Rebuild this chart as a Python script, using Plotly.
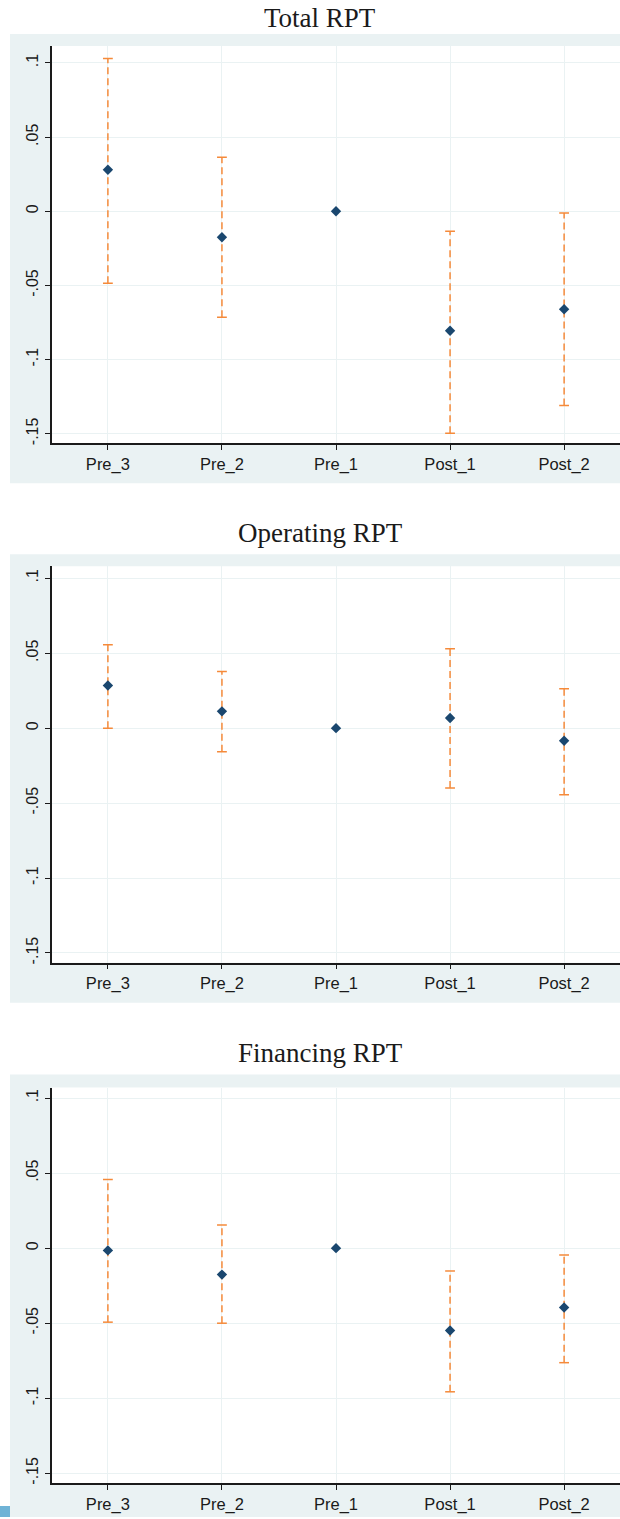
import plotly.graph_objects as go

categories = ["Pre_3", "Pre_2", "Pre_1", "Post_1", "Post_2"]

titles = ["Total RPT", "Operating RPT", "Financing RPT"]

total_coef = [0.028, -0.0175, 0.0, -0.0805, -0.066]
total_lo = [-0.0485, -0.0714, None, -0.1496, -0.131]
total_hi = [0.1031, 0.0364, None, -0.0135, -0.0011]

oper_coef = [0.0284, 0.0112, 0.0, 0.0068, -0.0084]
oper_lo = [0.0, -0.0157, None, -0.040, -0.0445]
oper_hi = [0.0557, 0.0378, None, 0.053, 0.0262]

fin_coef = [-0.0015, -0.0176, 0.0, -0.0549, -0.0395]
fin_lo = [-0.0493, -0.050, None, -0.0957, -0.0763]
fin_hi = [0.0457, 0.0154, None, -0.0152, -0.0045]

y_tickvals = [-0.15, -0.1, -0.05, 0, 0.05, 0.1]
y_ticktext = ["-.15", "-.1", "-.05", "0", ".05", ".1"]

panels = [
    (total_coef, total_lo, total_hi),
    (oper_coef, oper_lo, oper_hi),
    (fin_coef, fin_lo, fin_hi),
]

W, H = 620, 1519
# pixel layout per panel: (gray_top, gray_bottom, plot_top, plot_bottom, title_y, y_top)
geom = [
    (34, 484, 46, 444, 18, 0.1115),
    (555, 1004, 567, 964, 534, 0.108),
    (1076, 1519, 1089, 1485, 1054, 0.107),
]
y_bottom = -0.1565
axis_left = 52

NAVY = "#1A476F"
ORANGE = "#F58A3A"
GRID = "#EAF2F3"
BAND = "#EAF2F3"

def py(px):
    return 1 - px / H

fig = go.Figure()
shapes = []
annotations = []

for i, ((coef, lo, hi), g) in enumerate(zip(panels, geom)):
    gt, gb, pt, pb, ty, ytop = g
    sfx = "" if i == 0 else str(i + 1)
    xa = "x" + sfx
    ya = "y" + sfx

    xs, ys = [], []
    capx, capy = [], []
    for c, l, h in zip(categories, lo, hi):
        if l is None or h is None:
            continue
        xs += [c, c, None]
        ys += [l, h, None]
        capx += [c, c]
        capy += [l, h]
    fig.add_trace(go.Scatter(x=xs, y=ys, mode="lines",
                             line=dict(color=ORANGE, width=1.5, dash="7px,4px"),
                             xaxis=xa, yaxis=ya, showlegend=False, hoverinfo="skip"))
    fig.add_trace(go.Scatter(x=capx, y=capy, mode="markers",
                             marker=dict(symbol="line-ew", size=7, color=ORANGE,
                                         line=dict(color=ORANGE, width=1.5)),
                             xaxis=xa, yaxis=ya, showlegend=False, hoverinfo="skip"))
    fig.add_trace(go.Scatter(x=categories, y=coef, mode="markers",
                             marker=dict(symbol="diamond", size=8, color=NAVY),
                             xaxis=xa, yaxis=ya, showlegend=False))

    fig.layout["xaxis" + sfx] = dict(
        domain=[axis_left / W, 1], anchor=ya,
        type="category", categoryorder="array", categoryarray=categories,
        range=[-0.49, 4.49],
        showgrid=True, gridcolor=GRID, gridwidth=1,
        showline=True, linecolor="#1a1a1a", linewidth=1.5,
        ticks="outside", ticklen=5, tickcolor="#1a1a1a", tickwidth=1.2,
        tickfont=dict(family="Liberation Sans, Arial", size=16.5, color="#1a1a1a"),
        zeroline=False, fixedrange=True,
    )
    fig.layout["yaxis" + sfx] = dict(
        domain=[py(pb), py(pt)], anchor=xa,
        range=[y_bottom, ytop],
        tickvals=y_tickvals, ticktext=y_ticktext, tickangle=-90,
        showgrid=True, gridcolor=GRID, gridwidth=1,
        showline=True, linecolor="#1a1a1a", linewidth=1.5,
        ticks="outside", ticklen=5, tickcolor="#1a1a1a", tickwidth=1.2,
        tickfont=dict(family="Liberation Sans, Arial", size=16, color="#1a1a1a"),
        ticklabelstandoff=1,
        zeroline=False, fixedrange=True,
    )

    shapes.append(dict(type="rect", xref="paper", yref="paper",
                       x0=10 / W, x1=1, y0=py(gb), y1=py(gt),
                       fillcolor=BAND, line=dict(width=0), layer="below"))
    shapes.append(dict(type="rect", xref="paper", yref="paper",
                       x0=axis_left / W, x1=1, y0=py(pb), y1=py(pt),
                       fillcolor="white", line=dict(width=0), layer="below"))
    annotations.append(dict(text=titles[i], xref="paper", yref="paper",
                            x=320 / W, y=py(ty), xanchor="center", yanchor="middle",
                            showarrow=False,
                            font=dict(family="Liberation Serif, Times New Roman, serif",
                                      size=27, color="#1a1a1a")))

shapes.append(dict(type="rect", xref="paper", yref="paper",
                   x0=0, x1=10 / W, y0=0, y1=py(1508),
                   fillcolor="#6FB3D6", line=dict(width=0), layer="above"))

fig.update_layout(
    width=W, height=H,
    margin=dict(l=0, r=0, t=0, b=0),
    paper_bgcolor="white", plot_bgcolor="rgba(0,0,0,0)",
    shapes=shapes, annotations=annotations,
)

fig.write_html("out.html", config={"displayModeBar": False},
               post_script="document.body.style.margin='0';document.body.style.overflow='hidden';")
